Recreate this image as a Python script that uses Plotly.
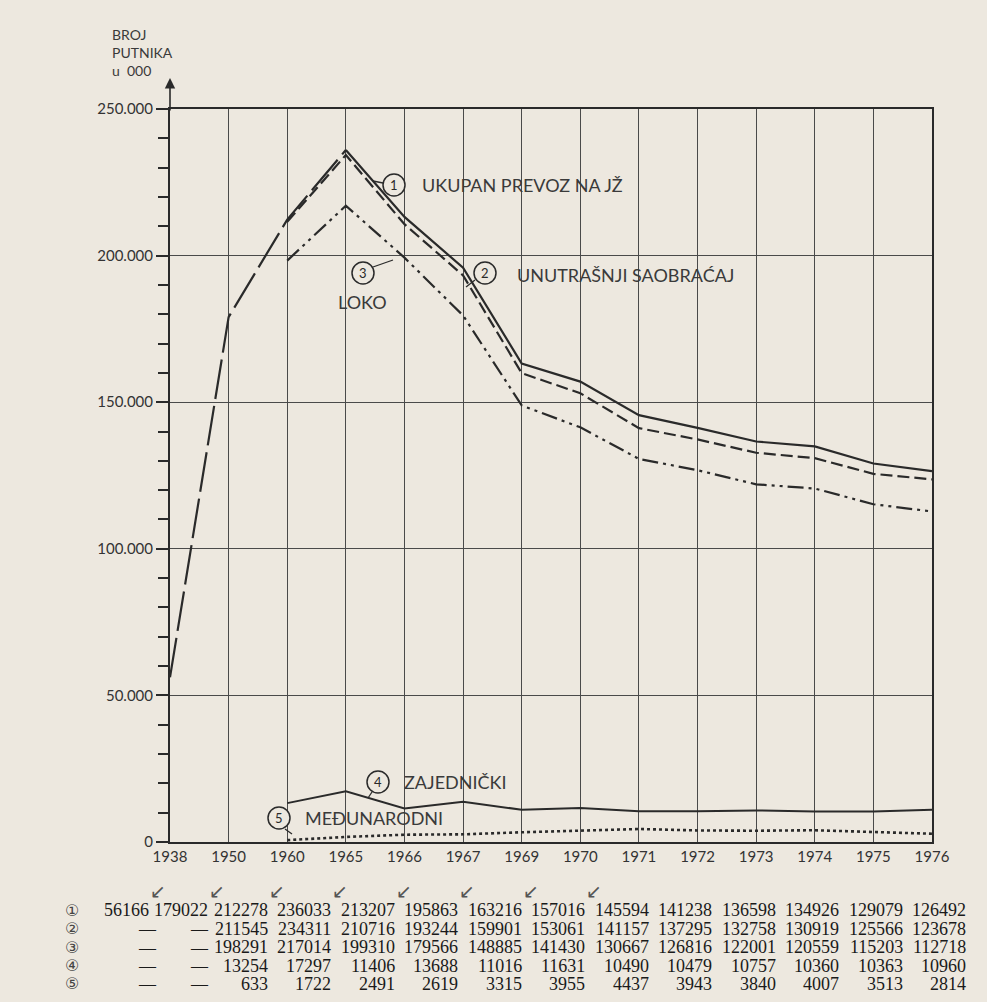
import plotly.graph_objects as go

years = ["1938", "1950", "1960", "1965", "1966", "1967", "1969", "1970",
         "1971", "1972", "1973", "1974", "1975", "1976"]
ukupan = [56166, 179022, 212278, 236033, 213207, 195863, 163216, 157016,
          145594, 141238, 136598, 134926, 129079, 126492]
unutrasnji = [None, None, 211545, 234311, 210716, 193244, 159901, 153061,
              141157, 137295, 132758, 130919, 125566, 123678]
loko = [None, None, 198291, 217014, 199310, 179566, 148885, 141430,
        130667, 126816, 122001, 120559, 115203, 112718]
zajednicki = [None, None, 13254, 17297, 11406, 13688, 11016, 11631,
              10490, 10479, 10757, 10360, 10363, 10960]
medjunarodni = [None, None, 633, 1722, 2491, 2619, 3315, 3955,
                4437, 3943, 3840, 4007, 3513, 2814]
ytick_vals = [0, 50000, 100000, 150000, 200000, 250000]
ytick_text = ["0", "50.000", "100.000", "150.000", "200.000", "250.000"]
series_labels = ["UKUPAN PREVOZ NA JŽ", "UNUTRAŠNJI SAOBRAĆAJ", "LOKO",
                 "ZAJEDNIČKI", "MEĐUNARODNI"]
row_marks = ["①", "②", "③", "④", "⑤"]

W, H = 987, 1002
L, R, T, B = 170, 932, 109, 842
INK = "#2a2a2a"
BG = "#ede8df"
LABEL_FONT = "Lato, Open Sans, sans-serif"


def px(x):
    return (x - L) / (R - L)


def py(y):
    return (B - y) / (B - T)


def text_at(x, y, text, size, family=LABEL_FONT, color="#333",
            xanchor="center", yanchor="middle"):
    return dict(x=px(x), y=py(y), xref="paper", yref="paper",
                xanchor=xanchor, yanchor=yanchor, showarrow=False,
                text=text, font=dict(family=family, size=size, color=color))


fig = go.Figure()
# series 1: early part long-dashed, later solid
fig.add_trace(go.Scatter(x=years[:4], y=ukupan[:4], mode="lines",
                         line=dict(color=INK, width=2.2, dash="40px,7px")))
fig.add_trace(go.Scatter(x=years[3:], y=ukupan[3:], mode="lines",
                         line=dict(color=INK, width=2.2)))
fig.add_trace(go.Scatter(x=years, y=unutrasnji, mode="lines",
                         line=dict(color=INK, width=2.2, dash="12px,5px")))
fig.add_trace(go.Scatter(x=years, y=loko, mode="lines",
                         line=dict(color=INK, width=2.2,
                                   dash="16px,5px,3px,5px,3px,5px")))
fig.add_trace(go.Scatter(x=years, y=zajednicki, mode="lines",
                         line=dict(color=INK, width=2.0)))
fig.add_trace(go.Scatter(x=years, y=medjunarodni, mode="lines",
                         line=dict(color=INK, width=2.6, dash="3px,3px")))

annotations = []
shapes = []

# y-axis title
annotations.append(text_at(110, 24, "BROJ<br>PUTNIKA<br>u  000", 14,
                           color="#3a3a3a", xanchor="left", yanchor="top"))
annotations[-1]["align"] = "left"
# axis arrow
annotations.append(dict(x=0, y=py(78), xref="paper", yref="paper",
                        ax=0, ay=34, showarrow=True, arrowhead=2,
                        arrowsize=1.3, arrowwidth=1.6, arrowcolor=INK,
                        text=""))

# circled series labels
circles = [
    (394, 185, "1", [(383, 183), (373, 181)]),
    (485, 273, "2", [(475, 280), (466, 287)]),
    (363, 273, "3", [(373, 267), (393, 260)]),
    (378, 782, "4", [(372, 792), (368, 798)]),
    (279, 818, "5", [(285, 829), (292, 834)]),
]
label_text_pos = {0: (420, 185), 1: (515, 275), 3: (402, 782), 4: (303, 818)}
r = 11
for i, (cx, cy, num, leader) in enumerate(circles):
    shapes.append(dict(type="circle", xref="paper", yref="paper",
                       x0=px(cx - r), x1=px(cx + r), y0=py(cy + r), y1=py(cy - r),
                       line=dict(color=INK, width=1.5), fillcolor=BG))
    annotations.append(text_at(cx, cy, num, 13, color=INK))
    shapes.append(dict(type="line", xref="paper", yref="paper",
                       x0=px(leader[0][0]), y0=py(leader[0][1]),
                       x1=px(leader[1][0]), y1=py(leader[1][1]),
                       line=dict(color=INK, width=1.3)))
    if i in label_text_pos:
        lx, ly = label_text_pos[i]
        annotations.append(text_at(lx, ly, series_labels[i], 18,
                                   xanchor="left", color="#3a3a3a"))
annotations.append(text_at(362, 302, series_labels[2], 18, color="#3a3a3a"))

# data table
col_right = [151, 210] + [270 + k * (968 - 270) / 11 for k in range(12)]
dash_center = [147, 199]
row_y = [910, 928.5, 947, 965.5, 984]
table = [ukupan, unutrasnji, loko, zajednicki, medjunarodni]
for ri, row in enumerate(table):
    annotations.append(text_at(72, row_y[ri], row_marks[ri], 16,
                               family="DejaVu Sans", color="#444"))
    for ci, v in enumerate(row):
        if v is None:
            annotations.append(text_at(dash_center[ci], row_y[ri], "—", 17,
                                       family="Liberation Serif",
                                       color="#1a1a1a"))
            continue
        annotations.append(text_at(col_right[ci], row_y[ri], str(v), 18,
                                   family="Liberation Serif", color="#1a1a1a",
                                   xanchor="right"))
for ci in range(8):
    annotations.append(text_at(col_right[ci] + 7, 891, "↙", 19,
                               family="DejaVu Sans", color="#555"))

fig.update_layout(
    width=W, height=H,
    margin=dict(l=L, r=W - R, t=T, b=H - B),
    paper_bgcolor=BG, plot_bgcolor=BG,
    showlegend=False,
    font=dict(family=LABEL_FONT, color="#333"),
    annotations=annotations,
    shapes=shapes,
    xaxis=dict(type="category", categoryorder="array", categoryarray=years,
               range=[0, 13], showgrid=True, gridcolor="#4a4a4a",
               gridwidth=1.2, showline=True, linecolor=INK, linewidth=2,
               mirror=True, ticks="", tickfont=dict(size=15, color="#333"),
               zeroline=False),
    yaxis=dict(range=[0, 250000], tickvals=ytick_vals, ticktext=ytick_text,
               showgrid=True, gridcolor="#4a4a4a", gridwidth=1.2,
               showline=True, linecolor=INK, linewidth=2, mirror=True,
               ticks="outside", ticklen=12, tickcolor=INK, tickwidth=1.5,
               minor=dict(dtick=10000, ticks="outside", ticklen=10,
                          tickcolor=INK, tickwidth=1.5, showgrid=False),
               tickfont=dict(size=15, color="#333"), zeroline=False),
)

fig.write_html("out.html", config={"displayModeBar": False},
               post_script="document.body.style.margin='0';"
                           "document.body.style.overflow='hidden';")
